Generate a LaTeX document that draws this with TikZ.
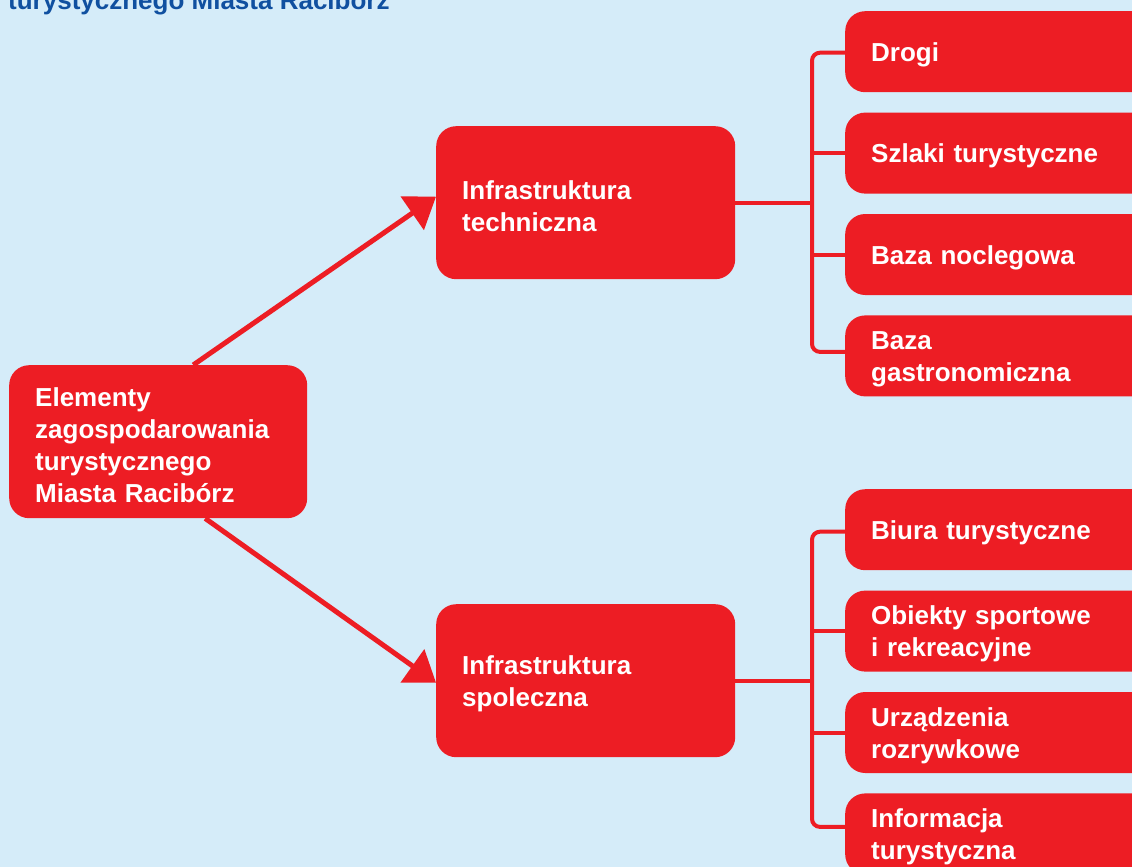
\documentclass[tikz,border=0pt]{standalone}
\usepackage{fontspec}
\setmainfont{Liberation Sans}
\usepackage{tikz}
\usetikzlibrary{arrows.meta,positioning}
\definecolor{tlo}{RGB}{213,236,249}
\definecolor{czerwony}{RGB}{237,29,36}
\definecolor{granat}{RGB}{16,80,160}

\begin{document}
\begin{tikzpicture}[x=1pt,y=-1pt,
box/.style={fill=czerwony,text=white,rounded corners=20pt,align=left,inner xsep=26pt,inner ysep=0pt,
  execute at begin node={\noindent\rule{0pt}{25pt}},font=\fontsize{26}{32}\selectfont\bfseries,anchor=north west},
bigbox/.style={box,text width=246pt,minimum height=153pt},
leafbox/.style={box,text width=268pt,minimum height=81pt},
link/.style={draw=czerwony,line width=4pt},
arrowlink/.style={draw=czerwony,line width=5pt,-{Triangle[length=29pt,width=40pt]}},
node distance=20pt]
\useasboundingbox (0,0) rectangle (1132,867);
\clip (0,0) rectangle (1132,867);
\fill[tlo] (0,0) rectangle (1132,867);

\node[anchor=base west,inner sep=0pt,text=granat,font=\fontsize{26}{32}\selectfont\bfseries] (tytul) at (8,10) {turystycznego Miasta Racibórz};

\node[bigbox] (elementy) at (9,365) {Elementy\\zagospodarowania\\turystycznego\\Miasta Racibórz};
\node[bigbox,text width=247pt] (techniczna) at (436,126) {Infrastruktura\\techniczna};
\node[bigbox,text width=247pt] (spoleczna) at (436,604) {Infrastruktura\\spoleczna};

\node[leafbox] (drogi) at (845,11) {Drogi};
\node[leafbox,below=of drogi] (szlaki) {Szlaki turystyczne};
\node[leafbox,below=of szlaki] (noclegowa) {Baza noclegowa};
\node[leafbox,below=of noclegowa] (gastro) {Baza\\gastronomiczna};

\node[leafbox] (biura) at (845,489) {Biura turystyczne};
\node[leafbox,below=of biura] (obiekty) {Obiekty sportowe\\i rekreacyjne};
\node[leafbox,below=of obiekty] (urzadzenia) {Urządzenia\\rozrywkowe};
\node[leafbox,below=of urzadzenia] (informacja) {Informacja\\turystyczna};

\coordinate (szyna) at (812,0);

\draw[arrowlink] ([xshift=35pt]elementy.north) -- ([yshift=6pt]techniczna.west);
\draw[arrowlink] ([xshift=47pt]elementy.south) -- ([yshift=-2pt]spoleczna.west);

\draw[link,rounded corners=8pt] ([yshift=-1pt]drogi.west) -- ([yshift=-1pt]drogi.west -| szyna) -- ([yshift=4pt]gastro.west -| szyna) -- ([yshift=4pt]gastro.west);
\draw[link] (szlaki.west) -- (szlaki.west -| szyna);
\draw[link] (noclegowa.west) -- (noclegowa.west -| szyna);
\draw[link] (techniczna.east) -- (techniczna.east -| szyna);

\draw[link,rounded corners=8pt] ([yshift=-2pt]biura.west) -- ([yshift=-2pt]biura.west -| szyna) -- ([yshift=7pt]informacja.west -| szyna) -- ([yshift=7pt]informacja.west);
\draw[link] (obiekty.west) -- (obiekty.west -| szyna);
\draw[link] (urzadzenia.west) -- (urzadzenia.west -| szyna);
\draw[link] (spoleczna.east) -- (spoleczna.east -| szyna);
\end{tikzpicture}
\end{document}
